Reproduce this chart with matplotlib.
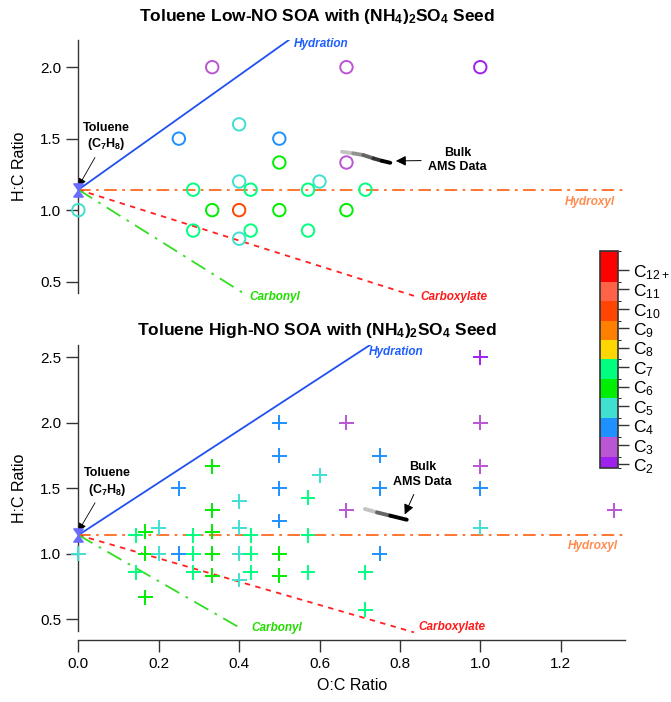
import numpy as np
import matplotlib
matplotlib.use("Agg")
import matplotlib.pyplot as plt
from matplotlib.colors import ListedColormap, BoundaryNorm
from matplotlib.collections import LineCollection
from matplotlib.path import Path
from matplotlib.cm import ScalarMappable

plt.rcParams["font.family"] = ["Liberation Sans", "DejaVu Sans"]
plt.rcParams["mathtext.fontset"] = "custom"
plt.rcParams["mathtext.rm"] = "Liberation Sans"
plt.rcParams["mathtext.it"] = "Liberation Sans:italic"
plt.rcParams["mathtext.bf"] = "Liberation Sans:bold"

# carbon number colour scale
carbon_numbers = [2, 3, 4, 5, 6, 7, 8, 9, 10, 11, 12]
carbon_labels = ["C$_{2}$", "C$_{3}$", "C$_{4}$", "C$_{5}$", "C$_{6}$", "C$_{7}$",
                 "C$_{8}$", "C$_{9}$", "C$_{10}$", "C$_{11}$", "C$_{12+}$"]
carbon_colors = ["#a020f0", "#ba55d3", "#1e90ff", "#40e0d0", "#00ee00", "#00ff7f",
                 "#ffd700", "#ff7f00", "#ff4500", "#ff6347", "#ff0000"]
carbon_bounds = [1.8, 2.4, 3.4, 4.4, 5.4, 6.4, 7.4, 8.4, 9.4, 10.4, 11.4, 13.0]

# low-NO particle phase species
low_oc = [0.333, 0.667, 1.0, 0.25, 0.5, 0.4, 0.5, 0.667, 0.4, 0.6,
          0.2857, 0.4286, 0.5714, 0.7143, 0.0, 0.333, 0.4, 0.5, 0.667,
          0.2857, 0.4286, 0.5714, 0.4]
low_hc = [2.0, 2.0, 2.0, 1.5, 1.5, 1.6, 1.333, 1.333, 1.2, 1.2,
          1.1429, 1.1429, 1.1429, 1.1429, 1.0, 1.0, 1.0, 1.0, 1.0,
          0.857, 0.857, 0.857, 0.8]
low_nc = [3, 3, 2, 4, 4, 5, 6, 3, 5, 5,
          7, 7, 7, 7, 5, 6, 10, 6, 6,
          7, 7, 7, 5]

# high-NO particle phase species
high_oc = [1.0, 0.5, 0.667, 1.0, 0.5, 0.75, 0.333, 1.0, 0.6,
           0.25, 0.5, 0.75, 1.0, 0.5714, 0.4, 0.333, 0.667, 1.333,
           0.5, 0.2, 0.4, 1.0,
           0.1429, 0.2857, 0.4286, 0.5714, 0.1667, 0.333,
           0.0, 0.1667, 0.2, 0.25, 0.2857, 0.333, 0.4, 0.4286, 0.5, 0.75,
           0.1429, 0.2857, 0.4286, 0.5714, 0.7143, 0.333, 0.5, 0.4,
           0.1667, 0.7143]
high_hc = [2.5, 2.0, 2.0, 2.0, 1.75, 1.75, 1.667, 1.667, 1.6,
           1.5, 1.5, 1.5, 1.5, 1.4286, 1.4, 1.333, 1.333, 1.333,
           1.25, 1.2, 1.2, 1.2,
           1.1429, 1.1429, 1.1429, 1.1429, 1.1667, 1.1667,
           1.0, 1.0, 1.0, 1.0, 1.0, 1.0, 1.0, 1.0, 1.0, 1.0,
           0.857, 0.857, 0.857, 0.857, 0.857, 0.833, 0.833, 0.8,
           0.667, 0.5714]
high_nc = [2, 4, 3, 3, 4, 4, 6, 3, 5,
           4, 4, 4, 4, 7, 5, 6, 3, 3,
           4, 5, 5, 5,
           7, 7, 7, 7, 6, 6,
           5, 6, 5, 4, 7, 6, 5, 7, 6, 4,
           7, 7, 7, 7, 7, 6, 6, 5,
           6, 7]

# bulk AMS elemental ratios (oldest to newest)
ams_low_oc = [0.656, 0.684, 0.709, 0.734, 0.755, 0.776]
ams_low_hc = [1.408, 1.397, 1.385, 1.362, 1.345, 1.331]
ams_high_oc = [0.713, 0.743, 0.776, 0.817]
ams_high_hc = [1.342, 1.316, 1.291, 1.260]

toluene_oc, toluene_hc = 0.0, 8 / 7

cmap = ListedColormap(carbon_colors)
norm = BoundaryNorm(carbon_bounds, cmap.N)

hourglass = Path([(-1, 1.4), (1, 1.4), (-1, -1.4), (1, -1.4), (-1, 1.4)],
                 [Path.MOVETO, Path.LINETO, Path.LINETO, Path.LINETO, Path.CLOSEPOLY])

fig = plt.figure(figsize=(6.71, 7.02), dpi=100)
ax_top = fig.add_axes([0.1168, 0.5826, 0.8146, 0.3604])
ax_bot = fig.add_axes([0.1168, 0.1011, 0.8146, 0.4074])


def draw_lines(ax, hyd_xy, carbonyl_xy, carbox_xy, hydroxyl_xy):
    x0, y0 = toluene_oc, toluene_hc
    ax.plot([x0, 1.0], [y0, y0 + 2.0], color="#2050f0", lw=1.3, zorder=2)
    ax.plot([x0, 1.354], [y0, y0], color="#ff6a20", lw=1.3,
            dashes=(7, 3, 1.5, 3), zorder=2)
    ax.plot([x0, 0.835], [y0, 0.40], color="#ff2020", lw=1.3,
            dashes=(3, 3), zorder=2, clip_on=False)
    ax.plot([x0, 0.41], [y0, 0.42], color="#33dd22", lw=1.3,
            dashes=(9, 4, 1.5, 4), zorder=2, clip_on=False)
    kw = dict(fontsize=8.5, fontweight="bold", style="italic", clip_on=False)
    ax.text(*hyd_xy, "Hydration", color="#1f5fff", ha="left", va="center", **kw)
    ax.text(*carbonyl_xy, "Carbonyl", color="#22dd00", ha="left", va="center", **kw)
    ax.text(*carbox_xy, "Carboxylate", color="#ff1a1a", ha="left", va="center", **kw)
    ax.text(*hydroxyl_xy, "Hydroxyl", color="#ff8c50", ha="right", va="center", **kw)


def draw_markers(ax, toluene_text, toluene_tip, ams_oc, ams_hc, ams_text, ams_tip):
    ax.scatter([toluene_oc], [toluene_hc], marker=hourglass, s=90,
               color="#6b6bff", zorder=6, clip_on=False)
    ax.annotate("Toluene\n(C$_\\mathbf{7}$H$_\\mathbf{8}$)", xy=toluene_tip,
                xytext=toluene_text, ha="center", va="center",
                fontsize=9, fontweight="bold", linespacing=1.2,
                arrowprops=dict(arrowstyle="-|>", color="black", lw=0.6,
                                mutation_scale=12, shrinkA=2, shrinkB=0))

    pts = np.column_stack([ams_oc, ams_hc]).reshape(-1, 1, 2)
    segs = np.concatenate([pts[:-1], pts[1:]], axis=1)
    grays = plt.get_cmap("Greys")(np.linspace(0.35, 1.0, len(segs)))
    ax.add_collection(LineCollection(segs, colors=grays, linewidths=2.8,
                                     capstyle="round", zorder=5))
    ax.annotate("Bulk\nAMS Data", xy=ams_tip, xytext=ams_text,
                ha="center", va="center", fontsize=9, fontweight="bold",
                linespacing=1.3,
                arrowprops=dict(arrowstyle="-|>", color="black", lw=0.7,
                                mutation_scale=15, shrinkA=3, shrinkB=0))


def style_axis(ax, ylim, yticks):
    ax.set_xlim(0, 1.36)
    ax.set_ylim(*ylim)
    ax.set_yticks(yticks)
    for side in ["top", "right"]:
        ax.spines[side].set_visible(False)
    ax.spines["left"].set_color("#333333")
    ax.spines["left"].set_linewidth(1.0)
    ax.tick_params(axis="y", direction="out", length=8.5, width=1.0,
                   color="#333333", labelsize=11, pad=4)
    ax.set_ylabel("H:C Ratio", fontsize=11.5, labelpad=9)


# top panel: low-NO, open circles
style_axis(ax_top, (0.42, 2.19), [0.5, 1.0, 1.5, 2.0])
ax_top.spines["bottom"].set_visible(False)
ax_top.tick_params(axis="x", bottom=False, labelbottom=False)
draw_lines(ax_top, (0.535, 2.16), (0.425, 0.395), (0.85, 0.395), (1.336, 1.058))
ax_top.scatter(low_oc, low_hc, s=80, facecolors="none",
               edgecolors=cmap(norm(np.array(low_nc))), linewidths=1.4,
               zorder=4, clip_on=False)
draw_markers(ax_top, (0.07, 1.51), (0.0, 1.165), ams_low_oc, ams_low_hc,
             (0.943, 1.35), (0.79, 1.344))

# bottom panel: high-NO, crosses
style_axis(ax_bot, (0.41, 2.594), [0.5, 1.0, 1.5, 2.0, 2.5])
ax_bot.spines["bottom"].set_position(("outward", 6.5))
ax_bot.spines["bottom"].set_color("#333333")
ax_bot.spines["bottom"].set_linewidth(1.0)
ax_bot.set_xticks([0.0, 0.2, 0.4, 0.6, 0.8, 1.0, 1.2])
ax_bot.xaxis.set_major_formatter(plt.FormatStrFormatter("%.1f"))
ax_bot.tick_params(axis="x", direction="out", length=8.5, width=1.0,
                   color="#333333", labelsize=11, pad=4)
ax_bot.set_xlabel("O:C Ratio", fontsize=11.5, labelpad=5)
draw_lines(ax_bot, (0.722, 2.54), (0.43, 0.43), (0.845, 0.44), (1.343, 1.063))
ax_bot.scatter(high_oc, high_hc, s=115, marker="+",
               c=cmap(norm(np.array(high_nc))), linewidths=1.4,
               zorder=4, clip_on=False)
draw_markers(ax_bot, (0.071, 1.544), (0.0, 1.172), ams_high_oc, ams_high_hc,
             (0.857, 1.605), (0.812, 1.30))

# panel titles
seed = "(NH$_\\mathbf{4}$)$_\\mathbf{2}$SO$_\\mathbf{4}$ Seed"
fig.text(0.4724, 0.976, "Toluene Low-NO SOA with " + seed,
         ha="center", va="center", fontsize=12.5, fontweight="bold")
fig.text(0.4724, 0.529, "Toluene High-NO SOA with " + seed,
         ha="center", va="center", fontsize=12.5, fontweight="bold")

# carbon number colour bar
cax = fig.add_axes([0.894, 0.333, 0.0273, 0.31])
cb = fig.colorbar(ScalarMappable(norm=norm, cmap=cmap), cax=cax,
                  spacing="proportional", ticks=carbon_numbers)
cb.ax.set_yticklabels(carbon_labels)
cb.ax.tick_params(length=8, width=1.0, labelsize=12.5, pad=3, color="#333333")
cb.outline.set_linewidth(1.2)
cb.outline.set_edgecolor("#333333")

fig.savefig("out.png", dpi=100)
